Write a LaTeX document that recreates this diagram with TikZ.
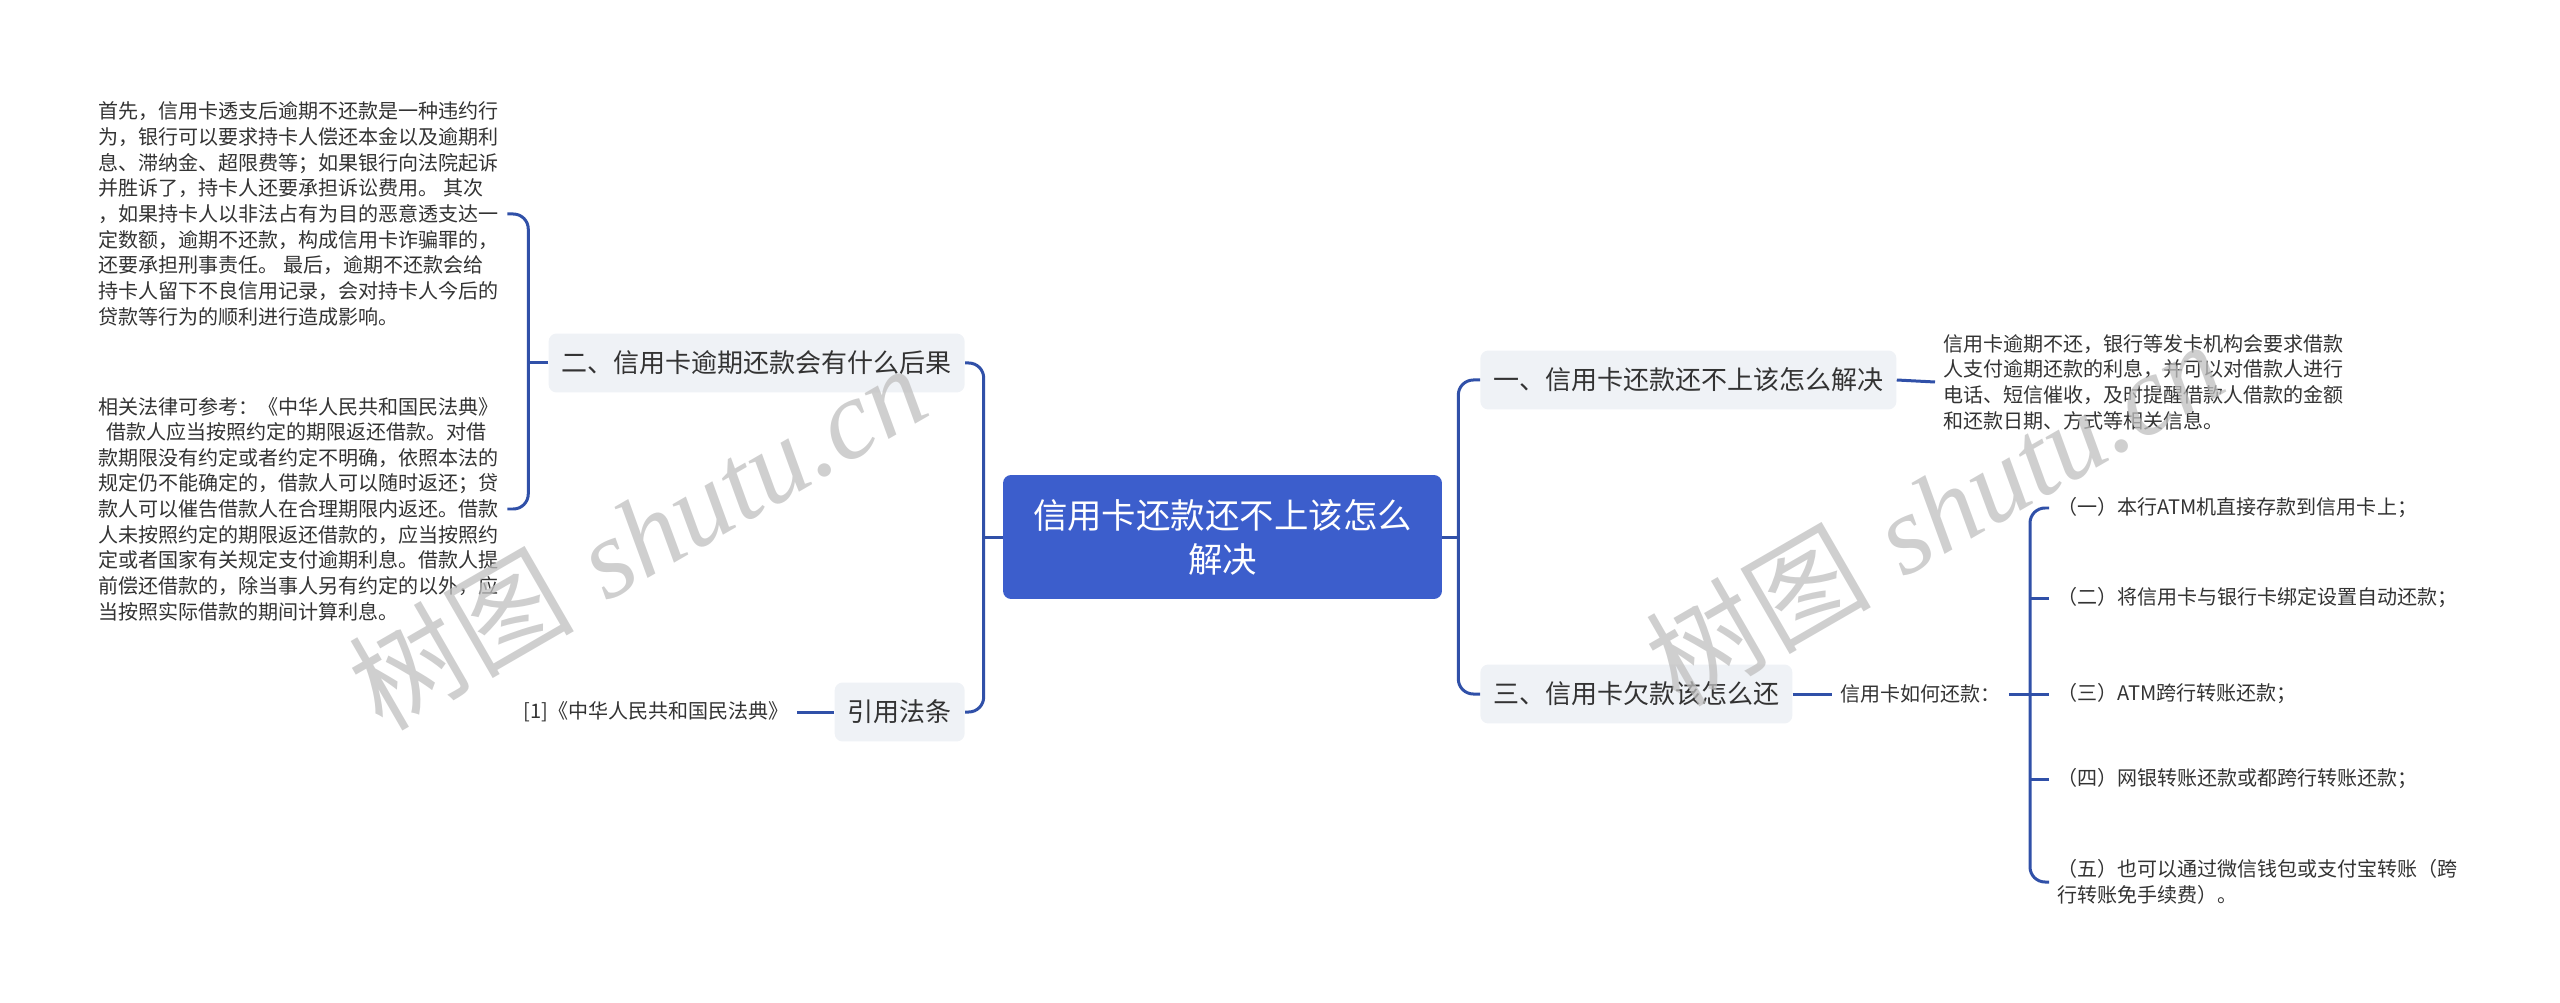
\documentclass[tikz,border=0pt]{standalone}
\usepackage{fontspec}
\usepackage{xcolor}
\usepackage{tikz}
\usetikzlibrary{positioning}
\newfontfamily\cjk{Noto Sans CJK SC}
\newfontfamily\wmlatin{Liberation Serif}
\definecolor{linkblue}{HTML}{3050A8}
\definecolor{rootblue}{HTML}{3C5ECC}
\definecolor{branchgray}{HTML}{EFF2F6}
\definecolor{inkgray}{HTML}{333333}

\begin{document}
\begin{tikzpicture}[
    x=0.02cm, y=-0.02cm,
    rootbox/.style={fill=rootblue, text=white, rounded corners=0.16cm, align=center, minimum width=8.78cm, minimum height=2.48cm, font=\cjk\fontsize{19.6pt}{25pt}\selectfont},
    branchbox/.style={fill=branchgray, text=inkgray, rounded corners=0.16cm, inner xsep=0.26cm, minimum height=1.18cm, font=\cjk\fontsize{14.8pt}{18pt}\selectfont},
    leaftext/.style={text=inkgray, align=left, inner xsep=0.16cm, inner ysep=0pt, font=\cjk\fontsize{11.4pt}{14.6pt}\selectfont},
    linkline/.style={draw=linkblue, line width=0.06cm, rounded corners=0.3cm},
    wmark/.style={text=black!25, opacity=0.75, rotate=30, font=\fontsize{64pt}{64pt}\selectfont}
  ]
    \useasboundingbox (0,0) rectangle (2560,1003);

    % centre
    \node[rootbox] (root) at (1222.5,537) {信用卡还款还不上该怎么\\解决};

    % left side
    \node[branchbox, anchor=east] (b2) at (965,363) {二、信用卡逾期还款会有什么后果};
    \node[branchbox, anchor=east] (b4) at (965,712) {引用法条};

    \node[leaftext, anchor=west] (t1) at (90,214) {首先，信用卡透支后逾期不还款是一种违约行\\为，银行可以要求持卡人偿还本金以及逾期利\\息、滞纳金、超限费等；如果银行向法院起诉\\并胜诉了，持卡人还要承担诉讼费用。 其次\\，如果持卡人以非法占有为目的恶意透支达一\\定数额，逾期不还款，构成信用卡诈骗罪的，\\还要承担刑事责任。 最后，逾期不还款会给\\持卡人留下不良信用记录，会对持卡人今后的\\贷款等行为的顺利进行造成影响。};
    \node[leaftext, anchor=west] (t2) at (90,509) {相关法律可参考：《中华人民共和国民法典》\\\hspace*{0.4em}借款人应当按照约定的期限返还借款。对借\\款期限没有约定或者约定不明确，依照本法的\\规定仍不能确定的，借款人可以随时返还；贷\\款人可以催告借款人在合理期限内返还。借款\\人未按照约定的期限返还借款的，应当按照约\\定或者国家有关规定支付逾期利息。借款人提\\前偿还借款的，除当事人另有约定的以外，应\\当按照实际借款的期间计算利息。};
    \node[leaftext, anchor=east] (t5) at (797,712) {[1]《中华人民共和国民法典》};

    % right side
    \node[branchbox, anchor=west] (b1) at (1480,380) {一、信用卡还款还不上该怎么解决};
    \node[branchbox, anchor=west] (b3) at (1480,694) {三、信用卡欠款该怎么还};

    \node[leaftext, anchor=west] (t3) at (1935,382) {信用卡逾期不还，银行等发卡机构会要求借款\\人支付逾期还款的利息，并可以对借款人进行\\电话、短信催收，及时提醒借款人借款的金额\\和还款日期、方式等相关信息。};
    \node[leaftext, anchor=west] (t4) at (1832,694) {信用卡如何还款：};

    \node[leaftext, anchor=west] (i1) at (2049,508) {（一）本行ATM机直接存款到信用卡上；};
    \node[leaftext, anchor=west] (i2) at (2049,598) {（二）将信用卡与银行卡绑定设置自动还款；};
    \node[leaftext, anchor=west] (i3) at (2049,694) {（三）ATM跨行转账还款；};
    \node[leaftext, anchor=west] (i4) at (2049,779) {（四）网银转账还款或都跨行转账还款；};
    \node[leaftext, anchor=west] (i5) at (2049,882) {（五）也可以通过微信钱包或支付宝转账（跨\\行转账免手续费）。};

    % junctions
    \coordinate[left=0.38cm of root.west] (rl);
    \coordinate[right=0.32cm of root.east] (rr);
    \coordinate[left=0.4cm of b2.west] (lj);
    \coordinate[left=0.38cm of i3.west] (ij);

    % connectors
    \draw[linkline] (root.west) -- (rl);
    \draw[linkline] (b2.east) -| (rl) |- (b4.east);
    \draw[linkline] (root.east) -- (rr);
    \draw[linkline] (b1.west) -| (rr) |- (b3.west);
    \draw[linkline] (b2.west) -- (lj);
    \draw[linkline] (t1.east) -| (lj) |- (t2.east);
    \draw[linkline] (t5.east) -- (b4.west);
    \draw[linkline] (b1.east) -- (t3.west);
    \draw[linkline] (b3.east) -- (t4.west);
    \draw[linkline] (t4.east) -- (i3.west);
    \draw[linkline] (i1.west) -| (ij) |- (i5.west);
    \draw[linkline] (i2.west) -- (i2.west -| ij);
    \draw[linkline] (i4.west) -- (i4.west -| ij);

    % watermark
    \node[wmark] (wm1) at (637,536) {{\cjk 树图} {\wmlatin\itshape shutu.cn}};
    \node[wmark] (wm2) at (1934,512) {{\cjk 树图} {\wmlatin\itshape shutu.cn}};
  \end{tikzpicture}
\end{document}
